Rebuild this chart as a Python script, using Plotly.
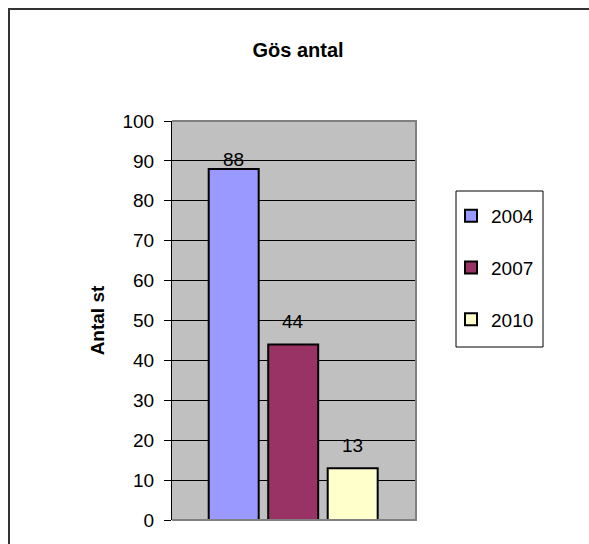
import plotly.graph_objects as go

# ---- data ----
series_names = ["2004", "2007", "2010"]
series_values = [88, 44, 13]
series_colors = ["#9999FF", "#993366", "#FFFFCC"]
y_tick_values = [0, 10, 20, 30, 40, 50, 60, 70, 80, 90, 100]
chart_title = "Gös antal"
y_title = "Antal st"

# ---- layout geometry (screen pixels; body margin removed) ----
W, H = 589, 544
PL, PR, PT, PB = 172, 416, 121, 520  # plot area edges
pw, ph = PR - PL, PB - PT


def px_x(p):  # px -> paper
    return (p - PL) / pw


def px_y(p):
    return (PB - p) / ph


FONT = "Liberation Sans, Arial, sans-serif"
FS = 19

fig = go.Figure()
for name, val, col in zip(series_names, series_values, series_colors):
    fig.add_trace(go.Bar(
        x=[name], y=[val], name=name, legendgroup=name,
        width=0.84,
        marker=dict(color=col, line=dict(color="black", width=2)),
        hoverinfo="skip",
    ))

# data labels (Excel-style, above bars)
label_shift = [-3, 10, 10]
annotations = []
for i, (val, s) in enumerate(zip(series_values, label_shift)):
    annotations.append(dict(
        x=i, y=val, xref="x", yref="y", text=str(val), showarrow=False,
        yanchor="bottom", yshift=s, font=dict(family=FONT, size=FS, color="black"),
    ))

shapes = [
    # outer chart border: only left and top edges are visible in the frame
    dict(type="path", xref="paper", yref="paper",
         path=f"M {px_x(9)},{px_y(560)} L {px_x(9)},{px_y(9)} L {px_x(600)},{px_y(9)}",
         line=dict(color="#333333", width=2), layer="below"),
    # plot area border (gray) on top/right/bottom
    dict(type="path", xref="paper", yref="paper",
         path="M 0,0 L 1,0 L 1,1 L 0,1",
         line=dict(color="#808080", width=2), layer="above"),
    # legend box
    dict(type="rect", xref="paper", yref="paper",
         x0=px_x(456), x1=px_x(543), y0=px_y(347), y1=px_y(191),
         line=dict(color="black", width=1), fillcolor="white", layer="below"),
]

fig.update_layout(
    width=W, height=H,
    margin=dict(l=PL, r=W - PR, t=PT, b=H - PB, pad=0),
    paper_bgcolor="white", plot_bgcolor="#C0C0C0",
    barmode="overlay",
    font=dict(family=FONT, size=FS, color="black"),
    title=dict(text="<b>" + chart_title + "</b>", x=298 / W, xref="container",
               xanchor="center", y=1 - 50 / H, yref="container", yanchor="middle",
               font=dict(family=FONT, size=20, color="black")),
    xaxis=dict(type="category", range=[-1.037, 3.064], showticklabels=False,
               showgrid=False, zeroline=False, ticks="", showline=False,
               fixedrange=True),
    yaxis=dict(range=[0, 100], tickvals=y_tick_values, showgrid=True,
               gridcolor="black", gridwidth=1, zeroline=False,
               showline=True, linecolor="black", linewidth=1,
               ticks="outside", ticklen=7, tickcolor="black", tickwidth=1,
               ticklabelstandoff=6,
               tickfont=dict(family=FONT, size=FS, color="black"),
               title=dict(text="<b>" + y_title + "</b>", standoff=12,
                          font=dict(family=FONT, size=FS, color="black")),
               fixedrange=True),
    legend=dict(x=px_x(451), y=px_y(197), xanchor="left", yanchor="top",
                bgcolor="rgba(0,0,0,0)", borderwidth=0,
                font=dict(family=FONT, size=FS, color="black"),
                tracegroupgap=24, traceorder="grouped"),
    showlegend=True,
    annotations=annotations,
    shapes=shapes,
)

fig.write_html(
    "out.html",
    config={"displayModeBar": False},
    post_script=(
        "document.documentElement.style.margin='0';"
        "document.documentElement.style.overflow='hidden';"
        "document.body.style.margin='0';"
        "document.body.style.overflow='hidden';"
    ),
)
